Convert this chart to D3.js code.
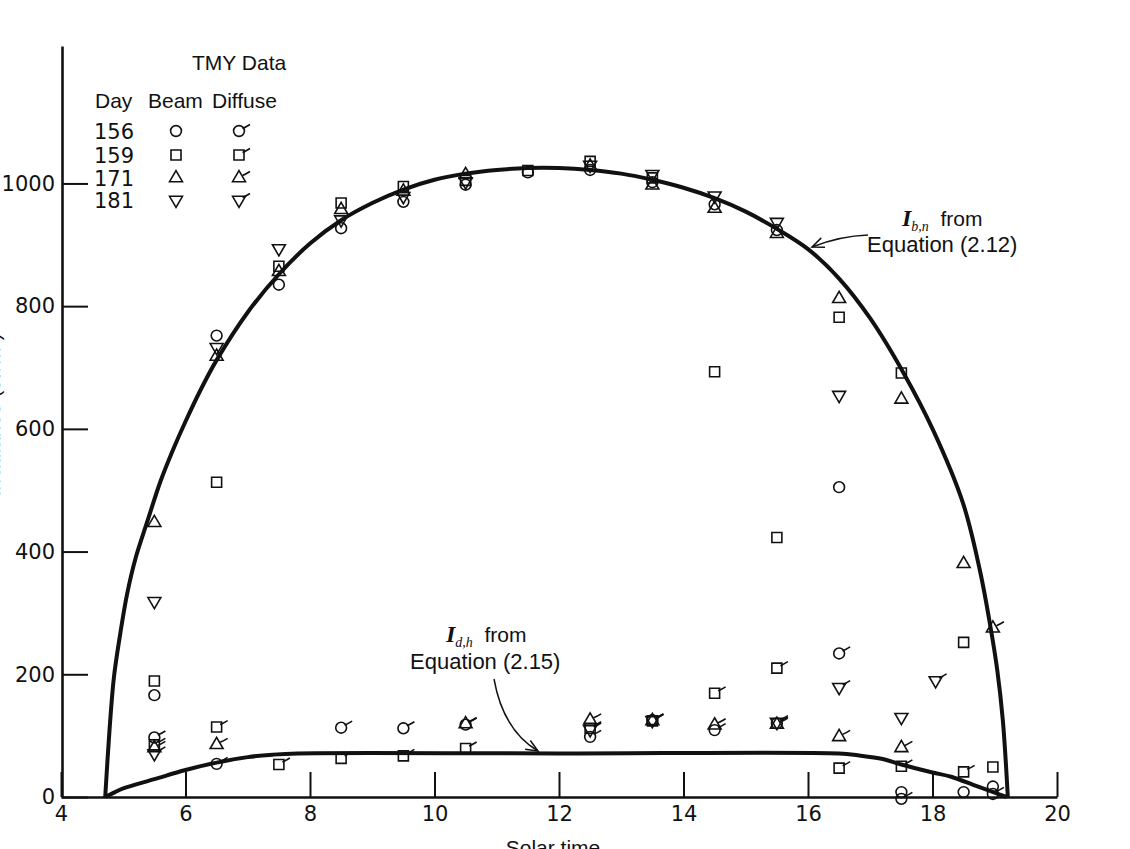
<!DOCTYPE html>
<html><head><meta charset="utf-8">
<script src="https://cdn.jsdelivr.net/npm/d3@7"></script>
<style>body{margin:0;background:#fff}svg{display:block}</style>
</head><body><svg id="c" width="1130" height="849"></svg>
<script>
// ---------- data ----------
const xTicks = [4, 6, 8, 10, 12, 14, 16, 18, 20];
const yTicks = [0, 200, 400, 600, 800, 1000];
const days = ["156", "159", "171", "181"];
const hours = [5.5, 6.5, 7.5, 8.5, 9.5, 10.5, 11.5, 12.5, 13.5, 14.5, 15.5, 16.5, 17.5, 18.05, 18.5, 18.97];
const beam156 = [166, 752, 835, 927, 970, 998, 1018, 1022, 1002, 966, 924, 505, 8, null, 8, 17];
const beam159 = [189, 513, 865, 968, 995, 1005, 1021, 1036, 1009, 693, 423, 782, 691, null, 252, 49];
const beam171 = [447, 718, 856, 957, 987, 1014, null, 1028, 997, 959, 918, 812, 648, null, 380, null];
const beam181 = [319, 733, 894, 941, 979, 1003, null, 1030, 1015, 980, 937, 655, 130, null, null, null];
const diff156 = [97, 54, null, 113, 112, 118, null, 98, 125, 109, 120, 234, -3, null, null, 5];
const diff159 = [85, 114, 53, 63, 67, 79, null, 112, 124, 169, 210, 47, 50, null, 41, null];
const diff171 = [80, 85, null, null, null, 119, null, 125, 124, 117, 118, 98, 80, null, null, 275];
const diff181 = [71, null, null, null, null, null, null, 110, 125, null, 122, 179, null, 190, null, null];
// model curves
const beamCurveHours = [4.71, 4.78, 4.85, 4.95, 5.06, 5.2, 5.38, 5.6, 5.8, 6.0, 6.25, 6.5, 7.0, 7.5, 8.0, 8.5, 9.0, 9.5, 10.0, 10.5, 11.0, 11.5, 12.0, 12.5, 13.0, 13.5, 14.0, 14.5, 15.0, 15.5, 16.0, 16.5, 17.0, 17.53, 18.01, 18.49, 18.76, 18.92, 19.04, 19.13, 19.21];
const beamCurveVals  = [0, 110, 195, 265, 330, 390, 447, 515, 566, 612, 665, 712, 790, 852, 902, 940, 968, 990, 1006, 1016, 1022, 1025, 1025, 1022, 1016, 1006, 993, 976, 954, 926, 893, 845, 780, 692, 598, 479, 370, 284, 207, 125, 0];
const diffCurveHours = [4.71, 4.87, 5.0, 5.5, 6.0, 6.5, 7.0, 7.4, 7.8, 12.0, 16.5, 16.8, 17.2, 17.5, 18.0, 18.3, 18.7, 19.0, 19.19];
const diffCurveVals  = [0, 8, 14, 29, 44, 56, 65, 69, 71, 71, 71, 68, 62, 53, 40, 33, 18, 7, 0];

// ---------- drawing ----------
const svg = d3.select('#c');
const x = d3.scaleLinear().domain([4, 20]).range([61, 1057]);
const y = d3.scaleLinear().domain([0, 1224]).range([797, 46]);
const numFont = "'DejaVu Sans', sans-serif";
const sansFont = "'Liberation Sans', Arial, sans-serif";

// axes
const gx = svg.append('g').attr('transform', 'translate(0,797)')
  .call(d3.axisBottom(x).tickValues(xTicks).tickFormat(d3.format('d')).tickSizeInner(-25).tickSizeOuter(0).tickPadding(9));
const gy = svg.append('g').attr('transform', 'translate(62,0)')
  .call(d3.axisLeft(y).tickValues(yTicks).tickFormat(d3.format('d')).tickSizeInner(-26).tickSizeOuter(0).tickPadding(7));
[gx, gy].forEach(g => {
  g.select('.domain').attr('stroke', '#111').attr('stroke-width', 2.6);
  g.selectAll('.tick line').attr('stroke', '#111').attr('stroke-width', 2);
  g.selectAll('.tick text').attr('fill', '#111').style('font-family', numFont).style('font-size', '21px');
});

// axis titles (partly cut off by the page edge, as in the reference)
svg.append('text').attr('x', 553).attr('y', 855).attr('text-anchor', 'middle')
  .style('font-family', sansFont).style('font-size', '21px').attr('fill', '#111').text('Solar time');
svg.append('text').attr('transform', 'translate(0,415) rotate(-90)').attr('text-anchor', 'middle')
  .style('font-family', sansFont).style('font-size', '21px').attr('fill', '#111').text('Irradiance (W/m²)');

// model curves
const line = d3.line().x(d => x(d[0])).y(d => y(d[1])).curve(d3.curveCatmullRom.alpha(0.5));
svg.append('path').datum(d3.zip(beamCurveHours, beamCurveVals)).attr('d', line)
  .attr('fill', 'none').attr('stroke', '#111').attr('stroke-width', 4).attr('stroke-linejoin', 'round');
svg.append('path').datum(d3.zip(diffCurveHours, diffCurveVals)).attr('d', line)
  .attr('fill', 'none').attr('stroke', '#111').attr('stroke-width', 4).attr('stroke-linejoin', 'round');

// markers
const shapes = {
  "156": d3.symbol(d3.symbolCircle, 92)(),
  "159": d3.symbol(d3.symbolSquare, 100)(),
  "171": d3.symbol(d3.symbolTriangle, 72)(),
  "181": d3.symbol(d3.symbolTriangle, 72)()
};
const tail = 'M3.5,-2.5 Q7,-4 11,-6.5';
function marker(g, day, px, py, diffuse) {
  const m = g.append('g').attr('transform', `translate(${px},${py})`);
  m.append('path').attr('d', shapes[day])
    .attr('transform', day === '181' ? 'rotate(180)' : null)
    .attr('fill', 'none').attr('stroke', '#111').attr('stroke-width', 1.6);
  if (diffuse) m.append('path').attr('d', tail).attr('fill', 'none').attr('stroke', '#111').attr('stroke-width', 1.6);
}
const series = [
  ["156", beam156, false], ["159", beam159, false], ["171", beam171, false], ["181", beam181, false],
  ["156", diff156, true], ["159", diff159, true], ["171", diff171, true], ["181", diff181, true]
];
const gm = svg.append('g');
series.forEach(([day, vals, diffuse]) => {
  vals.forEach((v, i) => { if (v !== null) marker(gm, day, x(hours[i]), y(v), diffuse); });
});

// legend
const lg = svg.append('g').attr('fill', '#111');
lg.append('text').attr('x', 192).attr('y', 70).style('font-family', sansFont).style('font-size', '21px').text('TMY Data');
lg.append('text').attr('x', 95).attr('y', 108).style('font-family', sansFont).style('font-size', '21px').text('Day');
lg.append('text').attr('x', 148).attr('y', 108).style('font-family', sansFont).style('font-size', '21px').text('Beam');
lg.append('text').attr('x', 212).attr('y', 108).style('font-family', sansFont).style('font-size', '21px').text('Diffuse');
const rowY = [131, 155, 178, 200];
days.forEach((d, i) => {
  lg.append('text').attr('x', 94).attr('y', rowY[i] + 7.5).style('font-family', numFont).style('font-size', '21px').text(d);
  marker(lg, d, 176, rowY[i], false);
  marker(lg, d, 239, rowY[i], true);
});

// annotations
function arrow(p0, c, p1) {
  svg.append('path').attr('d', `M${p0[0]},${p0[1]} Q${c[0]},${c[1]} ${p1[0]},${p1[1]}`)
    .attr('fill', 'none').attr('stroke', '#111').attr('stroke-width', 1.5);
  const a = Math.atan2(p1[1] - c[1], p1[0] - c[0]), L = 13, w = 0.4;
  const h1 = [p1[0] - L * Math.cos(a - w), p1[1] - L * Math.sin(a - w)];
  const h2 = [p1[0] - L * Math.cos(a + w), p1[1] - L * Math.sin(a + w)];
  svg.append('path').attr('d', `M${h1[0]},${h1[1]} L${p1[0]},${p1[1]} L${h2[0]},${h2[1]}`)
    .attr('fill', 'none').attr('stroke', '#111').attr('stroke-width', 1.5);
}
function label(xI, yTop, sub, xEq, yEq, eq) {
  const t = svg.append('text').attr('x', xI).attr('y', yTop).attr('fill', '#111');
  t.append('tspan').style('font-family', "'Liberation Serif', serif").style('font-style', 'italic')
    .style('font-weight', 'bold').style('font-size', '24px').text('I');
  t.append('tspan').attr('dy', 5).style('font-family', "'Liberation Serif', serif").style('font-style', 'italic')
    .style('font-size', '14px').text(sub);
  t.append('tspan').attr('dy', -5).style('font-family', sansFont).style('font-size', '21px').text('\u00a0 from');
  svg.append('text').attr('x', xEq).attr('y', yEq).attr('fill', '#111')
    .style('font-family', sansFont).style('font-size', '22px').text(eq);
}
label(902, 226, 'b,n', 867, 252, 'Equation (2.12)');
label(446, 642, 'd,h', 410, 669, 'Equation (2.15)');
arrow([868, 235], [840, 236], [812, 247]);
arrow([494, 679], [503, 730], [538, 751]);
</script></body></html>
